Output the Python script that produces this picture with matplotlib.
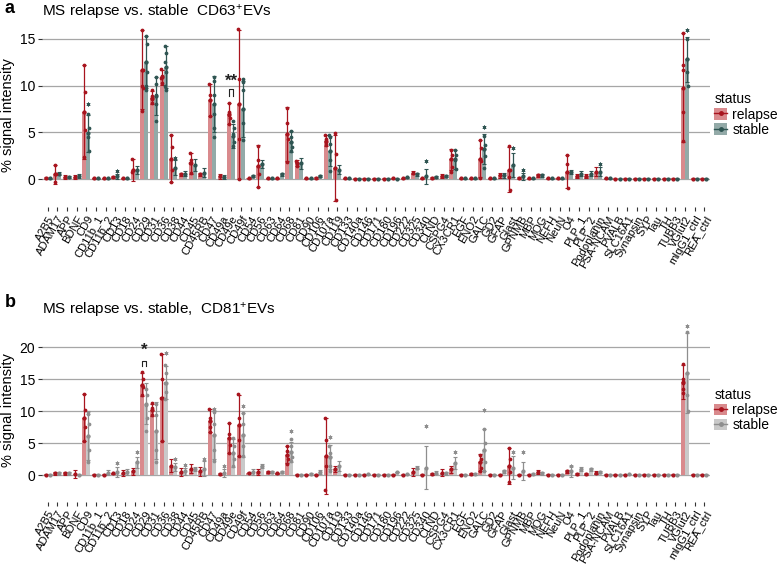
import numpy as np
import matplotlib
matplotlib.use("Agg")
import matplotlib.pyplot as plt
from matplotlib.patches import Patch
from matplotlib.lines import Line2D

plt.rcParams["font.family"] = ["Liberation Sans", "DejaVu Sans"]
plt.rcParams["mathtext.fontset"] = "custom"
plt.rcParams["mathtext.rm"] = "Liberation Sans"
plt.rcParams["mathtext.default"] = "regular"

# ---------------------------------------------------------------
# data
# ---------------------------------------------------------------
markers = ["A2B5", "ADAM17", "APP", "BDNF", "CD9", "CD11b_1", "CD11b_2", "CD13",
           "CD18", "CD24", "CD29", "CD31", "CD36", "CD38", "CD44", "CD45", "CD45RB",
           "CD47", "CD49a", "CD49e", "CD49f", "CD54", "CD56", "CD63", "CD64", "CD68",
           "CD81", "CD90", "CD106", "CD107a", "CD119", "CD133", "CD140a", "CD146",
           "CD171", "CD180", "CD196", "CD222", "CD325", "CD340", "CLND", "CSPG4",
           "CX3CR1", "EGF", "ENO2", "GALC", "GD2", "GFAP", "Glast", "GPNMB", "MBP",
           "MOG", "NEFH", "NeuN", "O4", "PLP_1", "PLP_2", "Podoplanin", "PSA-NCAM",
           "PVALB", "SLC16A1", "Synapsin", "SYP", "Tau", "TH", "TUBB3", "VGlut2",
           "mIgG1_ctrl", "REA_ctrl"]

# panel a: CD63+ EVs
a_rel = [0.1, 0.5, 0.2, 0.2, 7.2, 0.1, 0.1, 0.2, 0.1, 1.0, 11.7, 8.7, 10.9, 2.2, 0.5, 1.7, 0.5,
         8.5, 0.3, 7.0, 8.0, 0.1, 1.4, 0.1, 0.1, 4.8, 1.7, 0.1, 0.1, 4.1, 1.2, 0.1, 0.05, 0.05,
         0.05, 0.05, 0.1, 0.1, 0.7, 0.1, 0.1, 0.3, 2.1, 0.1, 0.1, 2.2, 0.1, 0.4, 1.0, 0.1, 0.1,
         0.4, 0.1, 0.1, 0.8, 0.3, 0.3, 0.8, 0.1, 0.05, 0.05, 0.05, 0.05, 0.05, 0.05, 0.05, 9.8,
         0.05, 0.05]
a_rel_sd = [0.1, 1.0, 0.2, 0.2, 5.0, 0.05, 0.05, 0.1, 0.05, 1.2, 4.2, 0.7, 0.8, 2.5, 0.2, 1.1, 0.2,
            1.7, 0.3, 1.1, 8.0, 0.05, 2.2, 0.05, 0.05, 2.9, 0.3, 0.05, 0.1, 0.6, 3.5, 0.05, 0.05,
            0.05, 0.05, 0.05, 0.05, 0.05, 0.2, 0.05, 0.1, 0.2, 1.1, 0.05, 0.05, 2.0, 0.05, 0.3, 2.4,
            0.1, 0.05, 0.2, 0.05, 0.05, 1.8, 0.2, 0.2, 0.5, 0.05, 0.05, 0.05, 0.05, 0.05, 0.05,
            0.05, 0.05, 5.8, 0.05, 0.05]
a_stb = [0.1, 0.6, 0.2, 0.3, 4.9, 0.1, 0.1, 0.3, 0.1, 1.0, 12.5, 8.9, 12.0, 1.2, 0.6, 1.5, 0.7,
         8.0, 0.2, 4.6, 7.5, 0.3, 1.6, 0.1, 0.5, 4.0, 1.7, 0.1, 0.3, 3.0, 1.0, 0.1, 0.05, 0.05,
         0.05, 0.05, 0.05, 0.2, 0.5, 0.3, 0.2, 0.3, 2.1, 0.1, 0.1, 3.2, 0.1, 0.4, 1.5, 0.3, 0.1,
         0.4, 0.1, 0.1, 0.8, 0.6, 0.6, 0.8, 0.1, 0.05, 0.05, 0.05, 0.05, 0.05, 0.05, 0.05, 12.8,
         0.05, 0.05]
a_stb_sd = [0.05, 0.2, 0.1, 0.2, 2.0, 0.05, 0.05, 0.3, 0.05, 0.4, 2.8, 2.0, 2.2, 0.8, 0.3, 0.6,
            0.5, 3.0, 0.2, 1.3, 3.0, 0.1, 0.4, 0.05, 0.2, 1.1, 0.6, 0.05, 0.1, 1.6, 0.5, 0.05,
            0.05, 0.05, 0.05, 0.05, 0.05, 0.05, 0.2, 0.8, 0.1, 0.1, 1.0, 0.05, 0.05, 1.6, 0.05,
            0.3, 1.3, 0.4, 0.05, 0.2, 0.05, 0.05, 0.2, 0.3, 0.3, 0.5, 0.05, 0.05, 0.05, 0.05,
            0.05, 0.05, 0.05, 0.05, 2.4, 0.05, 0.05]

a_rel_pts = {"ADAM17": [1.5, 0.5, -0.3], "CD9": [12.2, 9.3, 7.2, 5.3, 2.4],
             "CD24": [2.2, 1.0, 0.8], "CD29": [15.9, 11.7, 10.0, 9.8, 7.3],
             "CD31": [9.5, 8.9, 8.6, 8.1], "CD36": [11.8, 11.0, 10.8, 10.3],
             "CD38": [4.7, 3.4, 2.2, 1.0, -0.3], "CD45": [2.8, 2.0, 1.7, 0.7],
             "CD47": [10.2, 9.0, 8.5, 6.8], "CD49e": [8.1, 7.2, 6.9, 6.5, 5.9],
             "CD49f": [16.1, 10.7, 8.0, 4.3, 0.0], "CD56": [3.5, 2.0, 1.4, 0.6, -0.8],
             "CD68": [7.6, 6.0, 4.8, 4.3, 1.8], "CD81": [1.9, 1.7, 1.4],
             "CD107a": [4.7, 4.3, 4.0, 3.6], "CD119": [4.9, 2.7, 1.2, -2.2],
             "CX3CR1": [3.1, 2.6, 2.1, 1.3, 0.8], "GALC": [4.2, 3.3, 2.2, 1.9, 0.1],
             "Glast": [3.5, 1.0, 0.2, -1.2], "O4": [2.6, 1.6, 0.8, -1.0],
             "VGlut2": [15.6, 12.2, 11.7, 7.2, 4.1]}
a_stb_pts = {"CD9": [7.0, 5.5, 4.5, 3.0], "CD29": [15.3, 14.5, 12.5, 11.5, 10.0, 9.5],
             "CD31": [10.9, 10.2, 9.0, 8.0, 6.2], "CD36": [14.2, 13.5, 12.5, 11.5, 10.0, 9.5],
             "CD47": [10.9, 10.5, 9.0, 7.0, 5.5, 4.5], "CD49e": [6.2, 5.5, 4.8, 4.0, 3.5],
             "CD49f": [10.7, 10.4, 9.5, 7.5, 6.0, 4.2], "CD68": [5.1, 4.5, 4.0, 3.4, 3.0],
             "CD107a": [4.7, 4.5, 3.8, 3.0, 2.0, 0.9], "CX3CR1": [3.1, 2.6, 2.0, 1.1],
             "GALC": [4.6, 3.6, 3.2, 2.5, 1.2], "VGlut2": [15.0, 12.8, 11.5, 10.0]}
a_stb_star = {"CD9": 8.0, "CD13": 0.9, "CD38": 2.3, "CD340": 1.9, "GALC": 5.6,
              "Glast": 3.3, "GPNMB": 1.0, "Podoplanin": 1.6, "VGlut2": 16.0}

# panel b: CD81+ EVs
b_rel = [0.1, 0.3, 0.3, 0.2, 9.0, 0.1, 0.1, 0.3, 0.3, 0.6, 14.2, 10.2, 12.1, 1.5, 0.5, 1.0, 0.6,
         8.5, 0.2, 5.8, 7.8, 0.4, 0.5, 0.5, 0.3, 3.2, 0.1, 0.1, 0.1, 3.0, 1.0, 0.1, 0.1, 0.1, 0.1,
         0.1, 0.1, 0.1, 0.5, 0.1, 0.2, 0.4, 0.9, 0.1, 0.2, 2.0, 0.1, 0.1, 1.5, 0.1, 0.1, 0.5, 0.1,
         0.1, 0.6, 0.2, 0.2, 0.4, 0.1, 0.1, 0.1, 0.1, 0.1, 0.1, 0.1, 0.1, 14.6, 0.1, 0.1]
b_rel_sd = [0.05, 0.2, 0.2, 0.6, 3.7, 0.05, 0.05, 0.1, 0.5, 0.5, 1.8, 0.9, 6.8, 1.0, 0.6, 0.7,
            0.7, 1.8, 0.1, 2.3, 4.8, 0.1, 0.5, 0.1, 0.1, 1.3, 0.05, 0.05, 0.05, 6.0, 0.5, 0.05,
            0.05, 0.05, 0.05, 0.05, 0.05, 0.05, 0.6, 0.05, 0.1, 0.5, 0.5, 0.05, 0.1, 1.3, 0.05,
            0.05, 2.8, 0.1, 0.05, 0.3, 0.05, 0.05, 0.2, 0.1, 0.1, 0.2, 0.05, 0.05, 0.05, 0.05,
            0.05, 0.05, 0.05, 0.05, 2.6, 0.05, 0.05]
b_stb = [0.1, 0.3, 0.3, 0.1, 6.2, 0.1, 0.4, 0.5, 0.5, 2.0, 11.2, 7.0, 14.5, 1.3, 0.6, 1.0, 1.0,
         6.3, 0.3, 3.5, 6.3, 0.5, 1.5, 0.5, 0.5, 3.6, 0.1, 0.2, 0.5, 2.8, 1.5, 0.1, 0.1, 0.2, 0.1,
         0.1, 0.5, 0.2, 1.2, 1.2, 0.4, 0.3, 1.9, 0.1, 0.2, 3.9, 0.1, 0.6, 1.2, 0.6, 0.2, 0.3, 0.1,
         0.1, 0.6, 1.0, 0.9, 0.5, 0.1, 0.1, 0.2, 0.1, 0.1, 0.1, 0.1, 0.1, 16.0, 0.1, 0.1]
b_stb_sd = [0.05, 0.2, 0.2, 0.05, 3.8, 0.05, 0.4, 0.8, 0.4, 0.9, 3.2, 4.5, 2.6, 0.6, 0.5, 0.3,
            1.2, 3.8, 0.6, 2.2, 3.4, 0.5, 0.3, 0.2, 0.2, 1.6, 0.05, 0.1, 0.3, 1.9, 0.8, 0.05,
            0.05, 0.05, 0.05, 0.05, 0.05, 0.05, 0.3, 3.3, 0.2, 0.2, 1.0, 0.05, 0.1, 3.3, 0.05,
            0.2, 1.8, 1.4, 0.1, 0.2, 0.05, 0.05, 0.9, 0.3, 0.3, 0.2, 0.05, 0.05, 0.05, 0.05,
            0.05, 0.05, 0.05, 0.05, 6.2, 0.05, 0.05]

b_rel_pts = {"CD9": [12.7, 10.2, 9.0, 7.5, 5.3], "CD29": [16.1, 15.1, 14.2, 13.8, 12.6],
             "CD31": [11.3, 10.5, 10.2, 9.5], "CD36": [18.9, 15.0, 12.1, 5.4],
             "CD47": [10.3, 9.0, 8.5, 7.5, 6.8], "CD49e": [8.1, 6.5, 5.8, 4.8, 3.4],
             "CD49f": [12.7, 9.0, 7.8, 5.5, 3.0], "CD68": [4.5, 3.8, 3.2, 2.5, 1.8],
             "CD107a": [9.0, 5.5, 3.0, 1.5, -2.3], "GALC": [3.2, 2.5, 2.0, 1.2, 0.6],
             "Glast": [4.3, 2.5, 1.5, 0.5, -1.1], "VGlut2": [17.4, 15.0, 14.5, 13.5, 12.9]}
b_stb_pts = {"CD9": [9.6, 8.0, 6.2, 4.0, 2.0], "CD29": [13.5, 12.5, 11.0, 9.0, 7.0],
             "CD31": [11.1, 9.5, 7.0, 4.0, 2.1], "CD36": [17.2, 16.0, 14.5, 13.0, 12.0],
             "CD47": [9.9, 8.0, 6.3, 4.0, 2.2], "CD49e": [5.8, 4.5, 3.5, 2.5, 1.5],
             "CD49f": [9.7, 8.0, 6.3, 4.5, 3.0], "CD68": [5.6, 4.5, 3.6, 2.8, 2.3],
             "CD107a": [4.6, 3.5, 2.8, 1.5, 0.7], "GALC": [7.2, 5.0, 3.9, 2.0, 0.7],
             "VGlut2": [22.5, 16.0, 12.5, 10.0]}
b_stb_star = {"CD9": 9.8, "CD13": 1.9, "CD24": 3.7, "CD36": 19.2, "CD38": 2.5, "CD44": 1.6,
              "CD45RB": 2.5, "CD47": 10.4, "CD49a": 1.5, "CD49f": 10.8, "CD68": 6.9,
              "CD107a": 6.0, "CD340": 7.7, "CX3CR1": 3.7, "GALC": 10.2, "Glast": 3.6,
              "GPNMB": 3.6, "O4": 1.5, "VGlut2": 23.4}

REL_FILL, REL_DARK = "#d98a8d", "#a8141e"
JIT = [-0.07, 0.05, -0.03, 0.07, -0.05, 0.02]


def draw_panel(ax, rel, rel_sd, stb, stb_sd, rel_pts, stb_pts, stb_star,
               stb_fill, stb_dark, ylim, yticks):
    x = np.arange(len(markers))
    w = 0.42
    for off, m, sd, fill, dark, pts in [(-w / 2, rel, rel_sd, REL_FILL, REL_DARK, rel_pts),
                                        (w / 2, stb, stb_sd, stb_fill, stb_dark, stb_pts)]:
        ax.bar(x + off, m, width=w, color=fill, zorder=2)
        ax.errorbar(x + off, m, yerr=sd, fmt="o", ms=2.0, color=dark, elinewidth=0.9,
                    capsize=1.4, capthick=0.8, zorder=3)
        for name, vals in pts.items():
            i = markers.index(name)
            for k, v in enumerate(vals):
                ax.plot(i + off + JIT[k % len(JIT)] * 0.6, v, "o", ms=1.7, color=dark, zorder=4)
    for name, v in stb_star.items():
        i = markers.index(name)
        ax.plot(i + w / 2, v, marker=(6, 2, 0), ms=2.8, mew=0.6, color=stb_dark, zorder=4)

    ax.set_xlim(-0.6, len(markers) - 0.4)
    ax.set_ylim(*ylim)
    ax.set_yticks(yticks)
    ax.set_xticks(x)
    ax.set_xticklabels(markers, rotation=60, ha="right", rotation_mode="anchor", fontsize=8)
    ax.tick_params(axis="y", labelsize=10, length=3, color="#333333", pad=2)
    ax.tick_params(axis="x", length=3, color="#333333", pad=2)
    ax.grid(axis="y", color="#a6a6a6", linewidth=0.9, zorder=0)
    ax.set_axisbelow(True)
    for s in ax.spines.values():
        s.set_visible(False)
    ax.set_ylabel("% signal intensity", fontsize=10.5, labelpad=3)

    handles = [(Patch(facecolor=REL_FILL), Line2D([], [], color=REL_DARK, marker="o", ms=2.5, lw=1)),
               (Patch(facecolor=stb_fill), Line2D([], [], color=stb_dark, marker="o", ms=2.5, lw=1))]
    leg = ax.legend(handles, ["relapse", "stable"], title="status", loc="center left",
                    bbox_to_anchor=(1.0, 0.5), frameon=False, fontsize=10,
                    title_fontsize=10, handlelength=0.9, handleheight=0.9,
                    handletextpad=0.4, labelspacing=0.1, borderpad=0.0, borderaxespad=0.3)
    leg._legend_box.align = "left"


def bracket(ax, i, y_top, y_bot, label, label_y):
    ax.plot([i - 0.21, i - 0.21, i + 0.21, i + 0.21], [y_bot, y_top, y_top, y_bot],
            color="#222222", lw=0.8, zorder=5)
    ax.text(i, label_y, label, ha="center", va="center", fontsize=12, fontweight="bold",
            color="#222222")


fig = plt.figure(figsize=(7.77, 5.66), dpi=100)
ax_a = fig.add_axes([0.054, 0.634, 0.86, 0.327])
ax_b = fig.add_axes([0.054, 0.113, 0.86, 0.325])

draw_panel(ax_a, a_rel, a_rel_sd, a_stb, a_stb_sd, a_rel_pts, a_stb_pts, a_stb_star,
           "#93aaa8", "#2f5552", (-3.0, 16.8), [0, 5, 10, 15])
draw_panel(ax_b, b_rel, b_rel_sd, b_stb, b_stb_sd, b_rel_pts, b_stb_pts, b_stb_star,
           "#c9c9c9", "#8e8e8e", (-4.2, 24.6), [0, 5, 10, 15, 20])

bracket(ax_a, markers.index("CD49e"), 9.6, 8.9, "**", 10.5)
bracket(ax_b, markers.index("CD29"), 17.9, 17.1, "*", 19.6)

fig.text(0.006, 0.985, "a", fontsize=13, fontweight="bold", va="center")
fig.text(0.054, 0.978, "MS relapse vs. stable  CD63$^{+}$EVs", fontsize=11, va="center")
fig.text(0.006, 0.465, "b", fontsize=13, fontweight="bold", va="center")
fig.text(0.054, 0.452, "MS relapse vs. stable,  CD81$^{+}$EVs", fontsize=11, va="center")

fig.savefig("out.png", dpi=100)
